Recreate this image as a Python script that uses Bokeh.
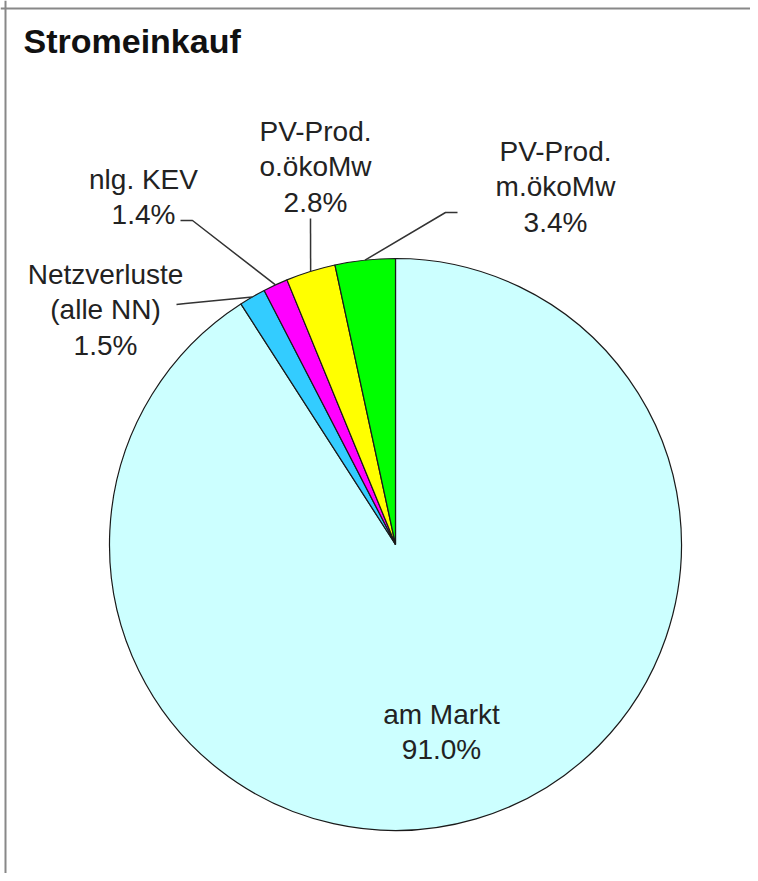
import math
from bokeh.plotting import figure
from bokeh.models import Range1d, Span, ColumnDataSource
from bokeh.core.properties import value
from bokeh.embed import file_html
from bokeh.resources import INLINE

# ---- data ----
title_text = "Stromeinkauf"
categories = ["am Markt", "Netzverluste\n(alle NN)", "nlg. KEV", "PV-Prod.\no.ökoMw", "PV-Prod.\nm.ökoMw"]
shares = [91.0, 1.5, 1.4, 2.8, 3.4]
colors = ["#CCFFFF", "#33CCFF", "#FF00FF", "#FFFF00", "#00FF00"]

# ---- layout (picture pixel coordinates) ----
W, H = 750, 873
def dx(px):
    return px
def dy(py):
    return H - py

CX, CY, R = 395, 544, 286
# label block: (center x, top y)
label_pos = [(441, 698), (105, 258), (143, 163), (315, 115), (555, 135)]
# leader lines: (elbow, end) or None
leaders = [None, ((185, 303), (176, 304)), ((192, 220), (180, 220)),
           ((310, 218), (310, 218)), ((445, 212), (457, 212))]

p = figure(width=W, height=H, output_backend="svg", toolbar_location=None,
           x_range=Range1d(0, W), y_range=Range1d(0, H), min_border=0)
p.xaxis.visible = False
p.yaxis.visible = False
p.grid.visible = False
p.outline_line_color = None
p.background_fill_color = "white"
p.border_fill_color = "white"

total = sum(shares)
starts, ends, mids = [], [], []
cum = 0.0
for v in shares:
    f0 = cum / total
    cum += v
    f1 = cum / total
    starts.append(math.pi / 2 - 2 * math.pi * f1)
    ends.append(math.pi / 2 - 2 * math.pi * f0)
    mids.append(math.pi / 2 - 2 * math.pi * (f0 + f1) / 2)

src = ColumnDataSource(dict(start=starts, end=ends, color=colors))
p.wedge(x=dx(CX), y=dy(CY), radius=R, start_angle="start", end_angle="end",
        direction="anticlock", fill_color="color", line_color="#1a1a1a",
        line_width=1.2, source=src)

# leader lines
xs, ys = [], []
for i, ld in enumerate(leaders):
    if ld is None:
        continue
    sx = dx(CX) + R * math.cos(mids[i])
    sy = dy(CY) + R * math.sin(mids[i])
    (ex, ey), (fx, fy) = ld
    xs.append([sx, dx(ex), dx(fx)])
    ys.append([sy, dy(ey), dy(fy)])
p.multi_line(xs=xs, ys=ys, line_color="#333333", line_width=1.5)

# labels
texts = [f"{c}\n{v:.1f}%" for c, v in zip(categories, shares)]
p.text(x=[dx(a) for a, b in label_pos], y=[dy(b) for a, b in label_pos], text=texts,
       text_font=value("Liberation Sans"), text_font_size="28px",
       text_color="#222222", text_align="center", text_baseline="top",
       text_line_height=1.16)

# title
p.text(x=[dx(23)], y=[dy(21)], text=[title_text], text_font=value("Liberation Sans"),
       text_font_size="34px", text_font_style="bold", text_color="#111111",
       text_align="left", text_baseline="top")

# frame (top and left edges visible)
p.add_layout(Span(location=dy(8), dimension="width", line_color="#888888", line_width=2))
p.add_layout(Span(location=dx(5), dimension="height", line_color="#888888", line_width=2))

open("out.html", "w").write(file_html(p, INLINE))
